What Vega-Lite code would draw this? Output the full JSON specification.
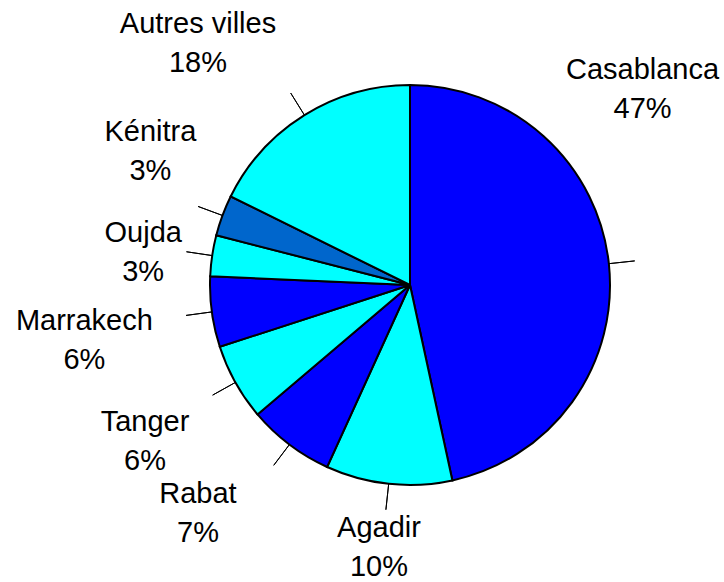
{
  "$schema": "https://vega.github.io/schema/vega-lite/v6.json",
  "width": 400,
  "height": 400,
  "autosize": {"type": "none"},
  "padding": {"left": 210, "top": 85, "right": 114, "bottom": 97},
  "background": "white",
  "view": {"stroke": null},
  "data": {
    "values": [
      {"city": "Casablanca", "share": 0.466, "rank": 1},
      {"city": "Agadir", "share": 0.102, "rank": 2},
      {"city": "Rabat", "share": 0.070, "rank": 3},
      {"city": "Tanger", "share": 0.062, "rank": 4},
      {"city": "Marrakech", "share": 0.057, "rank": 5},
      {"city": "Oujda", "share": 0.033, "rank": 6},
      {"city": "Kénitra", "share": 0.033, "rank": 7},
      {"city": "Autres villes", "share": 0.177, "rank": 8}
    ]
  },
  "encoding": {
    "theta": {"field": "share", "type": "quantitative", "stack": true},
    "order": {"field": "rank", "type": "quantitative"}
  },
  "layer": [
    {
      "mark": {"type": "arc", "radius": 200, "stroke": "black", "strokeWidth": 2},
      "encoding": {
        "color": {
          "field": "city",
          "type": "nominal",
          "legend": null,
          "scale": {
            "domain": ["Casablanca", "Agadir", "Rabat", "Tanger", "Marrakech", "Oujda", "Kénitra", "Autres villes"],
            "range": ["#0000FF", "#00FFFF", "#0000FF", "#00FFFF", "#0000FF", "#00FFFF", "#0066CC", "#00FFFF"]
          }
        }
      }
    },
    {
      "transform": [
        {"window": [{"op": "sum", "field": "share", "as": "cum"}], "sort": [{"field": "rank"}], "frame": [null, 0]},
        {"calculate": "datum.cum - datum.share / 2", "as": "mid"}
      ],
      "mark": {"type": "arc", "radius": 226, "radius2": 200, "fill": "transparent", "stroke": "black", "strokeWidth": 1},
      "encoding": {
        "theta": {"field": "mid", "type": "quantitative", "stack": null, "scale": {"domain": [0, 1], "range": [0, 6.283185307]}},
        "theta2": {"field": "mid"}
      }
    },
    {
      "mark": {
        "type": "text",
        "font": "Liberation Sans",
        "fontSize": 29,
        "color": "black",
        "dy": -17.5,
        "radius": {"expr": "265 + (datum.city === 'Casablanca' ? 40 : datum.city === 'Rabat' ? 45 : datum.city === 'Tanger' ? 42 : datum.city === 'Marrakech' ? 65 : datum.city === 'Oujda' ? 4 : datum.city === 'Kénitra' ? 28 : datum.city === 'Autres villes' ? 58 : -3)"},
        "thetaOffset": {"expr": "datum.city === 'Casablanca' ? -0.597 : datum.city === 'Rabat' ? 0.106 : datum.city === 'Kénitra' ? 0.127 : datum.city === 'Autres villes' ? -0.16 : datum.city === 'Tanger' ? -0.02 : datum.city === 'Marrakech' ? -0.028 : datum.city === 'Oujda' ? -0.02 : 0.012"}
      },
      "encoding": {"text": {"field": "city", "type": "nominal"}}
    },
    {
      "mark": {
        "type": "text",
        "font": "Liberation Sans",
        "fontSize": 29,
        "color": "black",
        "dy": 21.5,
        "radius": {"expr": "265 + (datum.city === 'Casablanca' ? 40 : datum.city === 'Rabat' ? 45 : datum.city === 'Tanger' ? 42 : datum.city === 'Marrakech' ? 65 : datum.city === 'Oujda' ? 4 : datum.city === 'Kénitra' ? 28 : datum.city === 'Autres villes' ? 58 : -3)"},
        "thetaOffset": {"expr": "datum.city === 'Casablanca' ? -0.597 : datum.city === 'Rabat' ? 0.106 : datum.city === 'Kénitra' ? 0.127 : datum.city === 'Autres villes' ? -0.16 : datum.city === 'Tanger' ? -0.02 : datum.city === 'Marrakech' ? -0.028 : datum.city === 'Oujda' ? -0.02 : 0.012"}
      },
      "encoding": {"text": {"field": "share", "type": "quantitative", "format": ".0%"}}
    }
  ],
  "resolve": {"scale": {"theta": "independent"}}
}
